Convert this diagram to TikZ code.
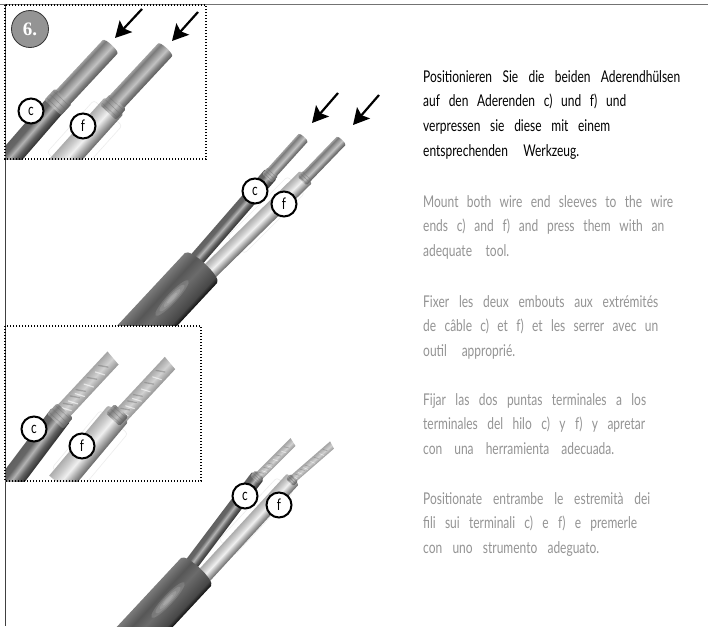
\documentclass[tikz,border=0pt]{standalone}
\usepackage{fontspec}
\setmainfont[FakeStretch=0.74]{Lato}
\newfontfamily\badgefont{Liberation Serif}
\usetikzlibrary{arrows.meta}
\definecolor{txtg}{gray}{0.58}
\pgfdeclareverticalshading{thinS}{100bp}{color(0bp)=(black!62);color(25bp)=(black!65);color(35bp)=(black!50);color(47bp)=(black!24);color(55bp)=(black!34);color(68bp)=(black!52);color(75bp)=(black!38);color(100bp)=(black!38)}
\pgfdeclareverticalshading{darkS}{100bp}{color(0bp)=(black!82);color(25bp)=(black!82);color(38bp)=(black!62);color(50bp)=(black!30);color(62bp)=(black!60);color(75bp)=(black!62);color(100bp)=(black!62)}
\pgfdeclareverticalshading{lightS}{100bp}{color(0bp)=(black!55);color(25bp)=(black!60);color(38bp)=(black!32);color(50bp)=(black!6);color(62bp)=(black!20);color(75bp)=(black!32);color(100bp)=(black!32)}
\pgfdeclareverticalshading{jackS}{100bp}{color(0bp)=(black);color(25bp)=(black!95);color(31bp)=(black!72);color(50bp)=(black!58);color(62bp)=(black!66);color(75bp)=(black!52);color(100bp)=(black!52)}
\pgfdeclareverticalshading{bladeS}{100bp}{color(0bp)=(black!40);color(25bp)=(black!42);color(50bp)=(black!18);color(75bp)=(black!35);color(100bp)=(black!35)}
% \tube{x}{y}{angle}{length}{width}{shading}: starts at px (x,y), runs down-left, rounded free end
\newcommand{\tube}[6]{\begin{scope}[transform canvas={shift={(#1pt,-#2pt)},rotate=#3}]
\path[shading=#6] (-#4,-#5/2) -- (0,-#5/2) to[out=0,in=0,looseness=0.45] (0,#5/2) -- (-#4,#5/2) -- cycle;
\end{scope}}
% highlight on a jacket: x y angle half-length half-width
\newcommand{\flash}[5]{\begin{scope}[transform canvas={shift={(#1pt,-#2pt)},rotate=#3}]
\foreach \k in {1,.75,.5,.3}
 \fill[white,opacity=.13] (0,0) ellipse[x radius=\k*#4,y radius=\k*#5];
\end{scope}}
% sleeve halo
\newcommand{\halo}[5]{\begin{scope}[transform canvas={shift={(#1pt,-#2pt)},rotate=#3}]
\draw[black!7,fill=white,rounded corners=3pt,line width=.6pt] (-#4,-#5/2) rectangle (0,#5/2);
\end{scope}}
% blade with slanted end and streaks
\newcommand{\blade}[5]{\begin{scope}[transform canvas={shift={(#1pt,-#2pt)},rotate=#3}]
\path[shading=bladeS] (-#4,-#5/2) -- (-1,-#5/2) -- (1,#5/2) -- (-#4,#5/2) -- cycle;
\foreach \t in {.14,.37,.6,.72,.86}
 \draw[black!55,line width=#5*0.08pt,opacity=.45,line cap=round] (-\t*#4,-#5*.15) -- (-\t*#4-#5*.3,#5*.32);
\foreach \t in {.25,.48,.66,.8,.93}
 \draw[white,line width=#5*0.07pt,opacity=.6,line cap=round] (-\t*#4,-#5*.32) -- (-\t*#4-#5*.25,#5*.2);
\end{scope}}
\newcommand{\collar}[4]{\begin{scope}[transform canvas={shift={(#1pt,-#2pt)},rotate=#3}]
\path[shading=thinS,rounded corners=1.5pt] (-#4*.35,-#4*.52) rectangle (#4*.35,#4*.52);
\foreach \t in {-.22,0,.22}\draw[black!60,line width=.4pt,opacity=.5] (\t*#4,-#4*.48) -- (\t*#4,#4*.48);
\end{scope}}
\newcommand{\fitline}[2]{\makebox[#1pt][s]{#2}}
\tikzset{
 x=1pt,y=1pt,
 callout/.style={circle,draw=black,line width=2pt,fill=white,minimum size=25pt,inner sep=0pt,font=\fontsize{16}{16}\selectfont},
 dotbox/.style={draw=black,line width=1.2pt,dash pattern=on 1.2pt off 1.8pt},
 hintarrow/.style={black,line width=2.2pt,-{Stealth[length=16pt,width=17pt,inset=3pt]}},
 bodytxt/.style={anchor=north west,align=left,inner sep=0pt,font=\fontsize{16.2}{24.7}\selectfont},
 germantxt/.style={bodytxt,black},
 greytxt/.style={bodytxt,txtg},
}
\begin{document}
\begin{tikzpicture}
\useasboundingbox (0,-626) rectangle (708,0);
\fill[white] (0,-626) rectangle (708,0);
% frame
\draw[black!55,line width=1.5pt] (0,-4.5) -- (708,-4.5);
\draw[black!75,line width=1pt] (5,-4) -- (5,-626);

% inset 1
\begin{scope}
\clip (5,-159) rectangle (206,-5);
\halo{108}{113}{48}{70}{38}
\tube{110}{47}{47}{82}{20}{thinS}
\tube{58}{102}{49}{80}{22}{darkS}
\collar{58}{102}{47}{22}
\tube{165}{50}{47}{80}{19}{thinS}
\tube{113}{107}{48}{85}{25}{lightS}
\collar{113}{107}{47}{21}
\end{scope}

% main top
\begin{scope}
\clip (0,-325) rectangle (420,-80);
\halo{296}{185}{45}{85}{24}
\tube{303}{138}{48}{50}{12}{thinS}
\tube{270}{175}{49}{117}{15}{darkS}
\collar{270}{175}{48}{13}
\tube{341}{141}{46}{50}{12}{thinS}
\tube{305}{178}{44.4}{138}{17}{lightS}
\collar{305}{178}{46}{12}
\tube{201}{268}{47}{120}{44}{jackS}
\flash{172}{298}{47}{24}{5}
\end{scope}

% inset 2
\begin{scope}
\clip (5,-481) rectangle (201,-326);
\halo{114}{422}{50}{75}{36}
\blade{113}{358}{47}{72}{17}
\tube{60}{416}{53}{90}{23}{darkS}
\collar{60}{416}{47}{21}
\blade{170}{363}{47}{72}{16}
\tube{117}{415}{50}{90}{26}{lightS}
\collar{117}{415}{47}{18}
\end{scope}

% main bottom
\begin{scope}
\clip (90,-626) rectangle (420,-430);
\halo{285}{485}{47}{85}{22}
\blade{293}{442}{45}{50}{9}
\tube{257}{477}{53}{113}{14}{darkS}
\collar{257}{477}{47}{11}
\blade{332}{445}{41}{52}{8}
\tube{292}{480}{47.4}{135}{16}{lightS}
\collar{292}{480}{45}{10}
\tube{196}{572}{47}{110}{41}{jackS}
\flash{168}{600}{47}{24}{5}
\end{scope}

\draw[dotbox] (5,-5) rectangle (206,-159);
\draw[dotbox] (5,-326) rectangle (201,-481);

% arrows
\coordinate (a1s) at (142,-9);\coordinate (a1e) at (115,-38);
\coordinate (a2s) at (198,-12);\coordinate (a2e) at (172,-41);
\coordinate (a3s) at (338,-93);\coordinate (a3e) at (312,-123);
\coordinate (a4s) at (379,-95);\coordinate (a4e) at (353,-125);
\draw[hintarrow] (a1s) -- (a1e);
\draw[hintarrow] (a2s) -- (a2e);
\draw[hintarrow] (a3s) -- (a3e);
\draw[hintarrow] (a4s) -- (a4e);

% callouts
\node[callout] (c1) at (31,-111) {c};
\node[callout] (f1) at (83,-126) {f};
\node[callout] (c2) at (255,-191) {c};
\node[callout] (f2) at (284,-204) {f};
\node[callout] (c3) at (34,-429) {c};
\node[callout] (f3) at (82,-446) {f};
\node[callout] (c4) at (245,-496) {c};
\node[callout] (f4) at (279,-505) {f};

% badge
\node[circle,draw=black!80,line width=.8pt,fill=black!42,minimum size=37pt,inner sep=0pt,text=white,font=\fontsize{19}{19}\bfseries\badgefont] (badge) at (30,-29) {6.};

% text
\node[germantxt] (de) at (423,-70) {\fitline{257}{Positionieren Sie die beiden Aderendhülsen}\\\fitline{203}{auf den Aderenden c) und f) und}\\\fitline{187}{verpressen sie diese mit einem}\\\fitline{156}{entsprechenden Werkzeug.}};
\node[greytxt] (en) at (423,-195) {\fitline{250}{Mount both wire end sleeves to the wire}\\\fitline{241}{ends c) and f) and press them with an}\\\fitline{86}{adequate tool.}};
\node[greytxt] (fr) at (423,-295) {\fitline{235}{Fixer les deux embouts aux extrémités}\\\fitline{235}{de câble c) et f) et les serrer avec un}\\\fitline{92}{outil approprié.}};
\node[greytxt] (es) at (423,-393) {\fitline{223}{Fijar las dos puntas terminales a los}\\\fitline{222}{terminales del hilo c) y f) y apretar}\\\fitline{191}{con una herramienta adecuada.}};
\node[greytxt] (it) at (423,-492) {\fitline{227}{Positionate entrambe le estremità dei}\\\fitline{214}{fili sui terminali c) e f) e premerle}\\\fitline{176}{con uno strumento adeguato.}};
\end{tikzpicture}
\end{document}
